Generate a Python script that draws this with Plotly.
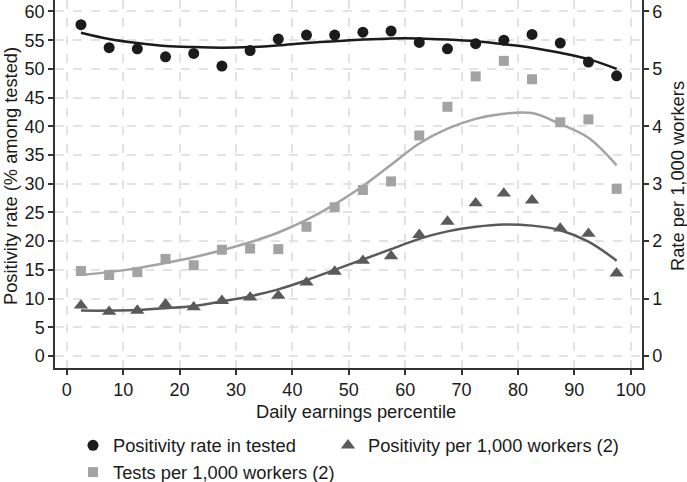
import plotly.graph_objects as go

percentile = [2.5, 7.5, 12.5, 17.5, 22.5, 27.5, 32.5, 37.5, 42.5, 47.5,
              52.5, 57.5, 62.5, 67.5, 72.5, 77.5, 82.5, 87.5, 92.5, 97.5]

positivity_rate = [57.7, 53.7, 53.5, 52.1, 52.7, 50.5, 53.2, 55.2, 55.9, 55.9,
                   56.4, 56.6, 54.6, 53.5, 54.4, 55.0, 56.0, 54.5, 51.2, 48.8]
positivity_rate_fit = [56.3, 55.2, 54.5, 54.0, 53.8, 53.7, 53.8, 54.1, 54.5, 54.8,
                       55.1, 55.3, 55.3, 55.1, 54.8, 54.3, 53.7, 52.8, 51.7, 50.0]

tests_per_1000 = [1.48, 1.41, 1.46, 1.69, 1.58, 1.85, 1.87, 1.86, 2.25, 2.59,
                  2.89, 3.04, 3.84, 4.34, 4.87, 5.14, 4.82, 4.07, 4.12, 2.91]
tests_fit = [1.41, 1.46, 1.53, 1.62, 1.72, 1.84, 1.98, 2.15, 2.37, 2.64,
             2.96, 3.33, 3.70, 3.96, 4.13, 4.22, 4.23, 4.04, 3.80, 3.32]

pos_per_1000 = [0.88, 0.77, 0.79, 0.90, 0.85, 0.96, 1.02, 1.05, 1.28, 1.47,
                1.66, 1.74, 2.11, 2.34, 2.66, 2.83, 2.71, 2.22, 2.13, 1.44]
pos_fit = [0.79, 0.79, 0.80, 0.83, 0.87, 0.95, 1.04, 1.16, 1.32, 1.50,
           1.68, 1.86, 2.04, 2.17, 2.25, 2.29, 2.27, 2.19, 1.99, 1.66]

x_ticks = [0, 10, 20, 30, 40, 50, 60, 70, 80, 90, 100]
left_ticks = [0, 5, 10, 15, 20, 25, 30, 35, 40, 45, 50, 55, 60]
right_ticks = [0, 1, 2, 3, 4, 5, 6]

x_title = "Daily earnings percentile"
left_title = "Positivity rate (% among tested)"
right_title = "Rate per 1,000 workers"

C_BLACK = "#1b1b1b"
C_LIGHT = "#a3a3a3"
C_DARK = "#5a5a5a"
TXT = "#1a1a1a"
FONT = "Liberation Sans, Arial, sans-serif"
FS = 18.3

fig = go.Figure()

# fitted lines
fig.add_trace(go.Scatter(x=percentile, y=tests_fit, mode="lines", yaxis="y2",
                         line=dict(color=C_LIGHT, width=2.5, shape="spline"),
                         showlegend=False, hoverinfo="skip"))
fig.add_trace(go.Scatter(x=percentile, y=pos_fit, mode="lines", yaxis="y2",
                         line=dict(color=C_DARK, width=2.5, shape="spline"),
                         showlegend=False, hoverinfo="skip"))
fig.add_trace(go.Scatter(x=percentile, y=positivity_rate_fit, mode="lines",
                         line=dict(color=C_BLACK, width=2.5, shape="spline"),
                         showlegend=False, hoverinfo="skip"))

# markers
fig.add_trace(go.Scatter(x=percentile, y=positivity_rate, mode="markers",
                         name="Positivity rate in tested", legend="legend",
                         marker=dict(symbol="circle", size=11, color=C_BLACK)))
fig.add_trace(go.Scatter(x=percentile, y=tests_per_1000, mode="markers", yaxis="y2",
                         name="Tests per 1,000 workers (2)", legend="legend",
                         marker=dict(symbol="square", size=10, color=C_LIGHT)))
fig.add_trace(go.Scatter(x=percentile, y=pos_per_1000, mode="markers", yaxis="y2",
                         name="Positivity per 1,000 workers (2)", legend="legend2",
                         marker=dict(symbol="triangle-up", size=12.5, color=C_DARK)))

axis_style = dict(showgrid=True, gridcolor="#e3e3e3", gridwidth=1.5, griddash="dash",
                  zeroline=False, showline=True, linecolor="#333333", linewidth=1.5,
                  ticks="outside", ticklen=5, tickwidth=1.5, tickcolor="#333333",
                  tickfont=dict(size=18, color=TXT, family=FONT))

legend_style = dict(orientation="v", xanchor="left", yanchor="top", y=-0.16,
                    traceorder="normal", font=dict(size=FS, color=TXT), itemwidth=30,
                    tracegroupgap=0, bgcolor="rgba(0,0,0,0)")

fig.update_layout(
    width=687, height=482,
    margin=dict(l=55, r=45, t=0, b=114, autoexpand=False),
    paper_bgcolor="white", plot_bgcolor="white",
    font=dict(family=FONT, color=TXT, size=FS),
    xaxis=dict(range=[-2.1, 102], tickvals=x_ticks, **axis_style),
    yaxis=dict(range=[-2.1, 62], tickvals=left_ticks, **axis_style),
    yaxis2=dict(range=[-0.21, 6.2], tickvals=right_ticks, overlaying="y", side="right",
                **{**axis_style, "showgrid": False}),
    legend=dict(x=(73 - 55) / 587, **legend_style),
    legend2=dict(x=(328 - 55) / 587, **legend_style),
    showlegend=True,
    annotations=[
        dict(text=x_title, xref="paper", yref="paper", x=(355.5 - 55) / 587, y=-(411 - 368) / 368,
             xanchor="center", yanchor="middle", showarrow=False, borderpad=0,
             font=dict(size=FS, color=TXT)),
        dict(text=left_title, xref="paper", yref="paper", x=0, y=1 - 176 / 368, xshift=-45,
             xanchor="center", yanchor="middle", textangle=-90, showarrow=False,
             font=dict(size=FS, color=TXT)),
        dict(text=right_title, xref="paper", yref="paper", x=1, y=1 - 176 / 368, xshift=35,
             xanchor="center", yanchor="middle", textangle=-90, showarrow=False,
             font=dict(size=FS, color=TXT)),
    ],
)

fig.write_html("out.html", config={"displayModeBar": False},
               post_script="document.body.style.margin='0px';")
